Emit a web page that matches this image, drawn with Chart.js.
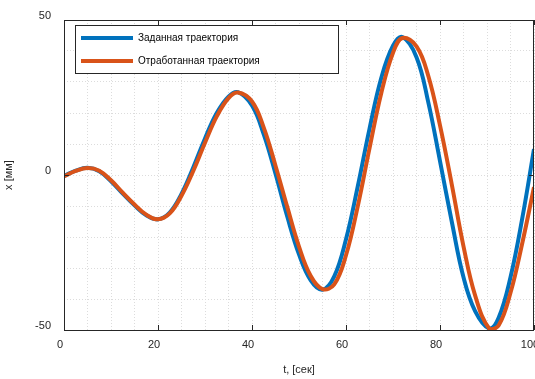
<!DOCTYPE html>
<html>
<head>
<meta charset="utf-8">
<script src="https://cdn.jsdelivr.net/npm/chart.js@4/dist/chart.umd.min.js"></script>
<style>
  html, body { margin: 0; padding: 0; background: #fff; }
  canvas { display: block; }
</style>
</head>
<body>
<canvas id="trajChart" width="535" height="379"></canvas>
<script>
// время, сек
const timeSec = [0, 2.5, 5, 7.5, 10, 12.5, 15, 17.5, 20, 22.5, 25, 27.5, 30, 32.5, 35, 37,
  40, 42.5, 45, 47.5, 50, 52.5, 55, 57.5, 60, 62.5, 65, 67.5, 70, 72,
  75, 77.5, 80, 82.5, 85, 87.5, 90.5, 92.5, 95, 97.5, 100];

// заданная траектория, мм
const targetX = [-0.3, 1.4, 2.3, 1.2, -2.0, -6.0, -9.8, -13.0, -14.3, -12.1, -6.1, 2.4, 11.8, 20.0, 25.3, 26.7,
  22.4, 13.1, 0.4, -13.4, -25.6, -34.0, -37.0, -32.7, -20.7, -3.7, 14.9, 31.3, 41.7, 44.5,
  38.0, 23.5, 4.5, -15.0, -33.0, -44.0, -49.5, -46.0, -33.0, -14.0, 8.4];

// отработанная траектория, мм
const actualX = [-0.4, 1.3, 2.25, 1.4, -1.7, -5.7, -9.5, -12.8, -14.3, -12.4, -6.7, 1.3, 10.4, 18.9, 24.8, 26.6,
  23.7, 15.3, 3.0, -10.3, -23.1, -32.6, -36.8, -35.3, -25.9, -10.1, 8.6, 26.4, 39.4, 44.2,
  41.5, 32.0, 16.0, -3.0, -23.0, -39.0, -49.6, -48.5, -38.0, -22.0, -3.9];

const xMajor = [0, 20, 40, 60, 80, 100];
const yMajor = [-50, 0, 50];

const axisColor = '#262626';
const gridColor = '#dcdcdc';
const font = { family: 'Liberation Sans, Arial, sans-serif', size: 11 };

// рамка, основные деления и легенда в духе MATLAB
const boxPlugin = {
  id: 'boxPlugin',
  afterDraw(chart) {
    const ctx = chart.ctx;
    const a = chart.chartArea;
    const xs = chart.scales.x, ys = chart.scales.y;
    ctx.save();
    ctx.strokeStyle = axisColor;
    ctx.lineWidth = 1;
    ctx.strokeRect(a.left + 0.5, a.top + 0.5, a.right - a.left - 1, a.bottom - a.top);
    ctx.beginPath();
    xMajor.forEach(v => {
      const px = Math.round(xs.getPixelForValue(v)) + 0.5;
      ctx.moveTo(px, a.bottom); ctx.lineTo(px, a.bottom - 5);
      ctx.moveTo(px, a.top); ctx.lineTo(px, a.top + 5);
    });
    yMajor.forEach(v => {
      const py = Math.round(ys.getPixelForValue(v)) + 0.5;
      ctx.moveTo(a.left, py); ctx.lineTo(a.left + 5, py);
      ctx.moveTo(a.right, py); ctx.lineTo(a.right - 5, py);
    });
    ctx.stroke();

    // легенда
    const lx = 75, ly = 25, lw = 263, lh = 48;
    ctx.fillStyle = '#fff';
    ctx.fillRect(lx, ly, lw, lh);
    ctx.strokeStyle = axisColor;
    ctx.strokeRect(lx + 0.5, ly + 0.5, lw, lh);
    const rows = [chart.data.datasets[1], chart.data.datasets[0]];
    rows.forEach((ds, i) => {
      const y = ly + 13 + i * 23;
      ctx.strokeStyle = ds.borderColor;
      ctx.lineWidth = 4;
      ctx.beginPath();
      ctx.moveTo(lx + 6, y); ctx.lineTo(lx + 58, y);
      ctx.stroke();
      ctx.fillStyle = '#000';
      ctx.font = '10px ' + font.family;
      ctx.textBaseline = 'middle';
      ctx.fillText(ds.label, lx + 63, y);
    });
    ctx.restore();
  }
};

new Chart(document.getElementById('trajChart'), {
  type: 'line',
  data: {
    datasets: [
      {
        label: 'Отработанная траектория',
        data: timeSec.map((t, i) => ({ x: t, y: actualX[i] })),
        borderColor: '#D95319',
        borderWidth: 4,
        pointRadius: 0,
        tension: 0.4,
        order: 1
      },
      {
        label: 'Заданная траектория',
        data: timeSec.map((t, i) => ({ x: t, y: targetX[i] })),
        borderColor: '#0072BD',
        borderWidth: 4,
        pointRadius: 0,
        tension: 0.4,
        order: 2
      }
    ]
  },
  options: {
    responsive: false,
    animation: false,
    layout: { padding: { top: 20, right: 1, left: 0, bottom: 0 } },
    plugins: {
      legend: { display: false },
      tooltip: { enabled: false }
    },
    scales: {
      x: {
        type: 'linear',
        min: 0,
        max: 100,
        grid: {
          color: gridColor,
          drawTicks: false
        },
        border: { display: false, dash: [1, 2] },
        ticks: {
          stepSize: 5,
          autoSkip: false,
          maxRotation: 0,
          padding: 8,
          labelOffset: -4,
          color: axisColor,
          font: font,
          callback: v => (v % 20 === 0 ? v : '')
        },
        title: {
          display: true,
          text: 't, [сек]',
          color: axisColor,
          font: font,
          padding: { top: 6, bottom: 2 }
        },
        afterFit(scale) {
          scale.height = 49;
          scale.paddingLeft = 0;
          scale.paddingRight = 0;
        }
      },
      y: {
        min: -50,
        max: 50,
        grid: {
          color: gridColor,
          drawTicks: false
        },
        border: { display: false, dash: [1, 2] },
        ticks: {
          stepSize: 10,
          autoSkip: false,
          padding: 13,
          labelOffset: -4,
          color: axisColor,
          font: font,
          callback: v => (v % 50 === 0 ? v : '')
        },
        title: {
          display: true,
          text: 'x [мм]',
          color: axisColor,
          font: font,
          padding: { top: 2, bottom: 0 }
        },
        afterFit(scale) {
          scale.width = 64;
          scale.paddingTop = 0;
          scale.paddingBottom = 0;
        }
      }
    }
  },
  plugins: [boxPlugin]
});
</script>
</body>
</html>
